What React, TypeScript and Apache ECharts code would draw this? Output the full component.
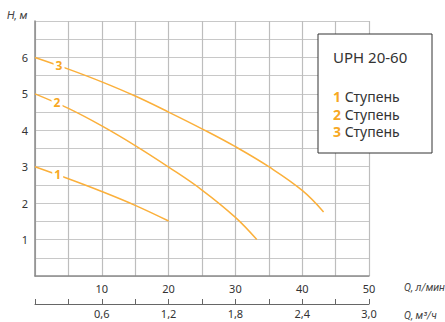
import React, { useEffect, useRef } from "react";
import * as echarts from "echarts";

// Pump head curves, UPH 20-60, three speed stages
const stage1Q = [0, 5, 10, 15, 20];
const stage1H = [3.0, 2.67, 2.32, 1.94, 1.51];
const stage2Q = [0, 5, 10, 15, 20, 25, 30, 33.2];
const stage2H = [5.0, 4.6, 4.12, 3.58, 2.99, 2.36, 1.61, 1.0];
const stage3Q = [0, 5, 10, 15, 20, 25, 30, 35, 40, 43.2];
const stage3H = [6.0, 5.68, 5.33, 4.94, 4.5, 4.04, 3.55, 3.0, 2.35, 1.76];

// Where each stage number sits on its curve
const stageLabels = ["1", "2", "3"];
const stageLabelQ = [3.4, 3.3, 3.6];
const stageLabelH = [2.8, 4.75, 5.78];

const headTicks = [1, 2, 3, 4, 5, 6];
const flowTicks = [10, 20, 30, 40, 50];
const flowM3hTicks = [0.6, 1.2, 1.8, 2.4, 3.0];

const modelName = "UPH 20-60";
const stageWord = "Ступень";

const ORANGE = "#fbb03b";
const LABEL_ORANGE = "#f7a823";
const FONT = "Noto Sans";
const NAME_FONT = "Roboto";

const zip = (q: number[], h: number[]) => q.map((v, i) => [v, h[i]]);
const series = [zip(stage1Q, stage1H), zip(stage2Q, stage2H), zip(stage3Q, stage3H)];

export default function App() {
  const ref = useRef<HTMLDivElement>(null);

  useEffect(() => {
    document.body.style.margin = "0";
    if (!ref.current) return;
    const chart = echarts.init(ref.current, null, { renderer: "svg" });
    const near = (v: number, list: number[]) => list.some((t) => Math.abs(t - v) < 1e-6);

    chart.setOption({
      animation: false,
      backgroundColor: "#fff",
      textStyle: { fontFamily: FONT },
      grid: { left: 35, top: 21, right: 76, bottom: 46 },
      xAxis: [
        {
          type: "value",
          min: 0,
          max: 50,
          interval: 5,
          axisLine: { show: true, lineStyle: { color: "#8a8a8a", width: 1.5 } },
          axisTick: { show: false },
          splitLine: { show: true, lineStyle: { color: "#bdbdbd", width: 1.2 } },
          axisLabel: {
            color: "#333",
            fontSize: 11,
            fontFamily: FONT,
            margin: 7,
            formatter: (v: number) => (near(v, flowTicks) ? String(v) : ""),
          },
        },
        {
          type: "value",
          position: "bottom",
          offset: 28,
          min: 0,
          max: 3.0,
          interval: 0.3,
          axisLine: { show: true, onZero: false, lineStyle: { color: "#666", width: 1 } },
          axisTick: { show: true, inside: true, length: 5, lineStyle: { color: "#666" } },
          splitLine: { show: false },
          axisLabel: {
            color: "#333",
            fontSize: 11,
            fontFamily: FONT,
            margin: 4,
            formatter: (v: number) =>
              near(v, flowM3hTicks) ? v.toFixed(1).replace(".", ",") : "",
          },
        },
      ],
      yAxis: {
        type: "value",
        min: 0,
        max: 7,
        interval: 0.5,
        axisLine: { show: true, lineStyle: { color: "#8a8a8a", width: 1.5 } },
        axisTick: { show: false },
        splitLine: { show: true, lineStyle: { color: "#c8c8c8", width: 1.2 } },
        axisLabel: {
          color: "#333",
          fontSize: 11,
          fontFamily: FONT,
          margin: 7,
          formatter: (v: number) => (near(v, headTicks) ? String(v) : ""),
        },
      },
      series: series.map((data, i) => ({
        type: "line",
        xAxisIndex: 0,
        data,
        smooth: 0.4,
        showSymbol: false,
        lineStyle: { color: ORANGE, width: 1.5 },
        z: 3,
        markPoint: {
          symbol: "rect",
          symbolSize: [11, 12],
          itemStyle: { color: "#fff" },
          label: {
            show: true,
            position: "inside",
            color: LABEL_ORANGE,
            fontWeight: "bold",
            fontSize: 12,
            fontFamily: FONT,
            formatter: stageLabels[i],
          },
          data: [{ coord: [stageLabelQ[i], stageLabelH[i]] }],
        },
      })),
      graphic: [
        {
          type: "text",
          left: 7,
          top: 10,
          style: { text: "H, м", fill: "#444", font: `italic 11px "${NAME_FONT}"` },
        },
        {
          type: "text",
          left: 404,
          top: 282,
          style: { text: "Q, л/мин", fill: "#444", font: `italic 10.5px "${NAME_FONT}"` },
        },
        {
          type: "text",
          left: 404,
          top: 310,
          style: { text: "Q, м³/ч", fill: "#444", font: `italic 10.5px "${NAME_FONT}"` },
        },
        {
          type: "rect",
          z: 100,
          shape: { x: 318, y: 34, width: 114, height: 119 },
          style: { fill: "#ffffff", stroke: "#333", lineWidth: 1 },
        },
        {
          type: "text",
          z: 101,
          x: 333,
          y: 49,
          style: { text: modelName, fill: "#333", font: `15px "${FONT}"` },
        },
        {
          type: "text",
          z: 101,
          x: 333,
          y: 88,
          style: {
            text: stageLabels.map((s) => `{n|${s}} {w|${stageWord}}`).join("\n"),
            font: `14px "${FONT}"`,
            lineHeight: 17.5,
            rich: {
              n: { fill: LABEL_ORANGE, fontSize: 14, lineHeight: 17.5, fontFamily: FONT, fontWeight: "bold" },
              w: { fill: "#333", fontSize: 14, lineHeight: 17.5, fontFamily: FONT },
            },
          },
        },
      ],
    });

    return () => chart.dispose();
  }, []);

  return <div ref={ref} style={{ width: 445, height: 322 }} />;
}
